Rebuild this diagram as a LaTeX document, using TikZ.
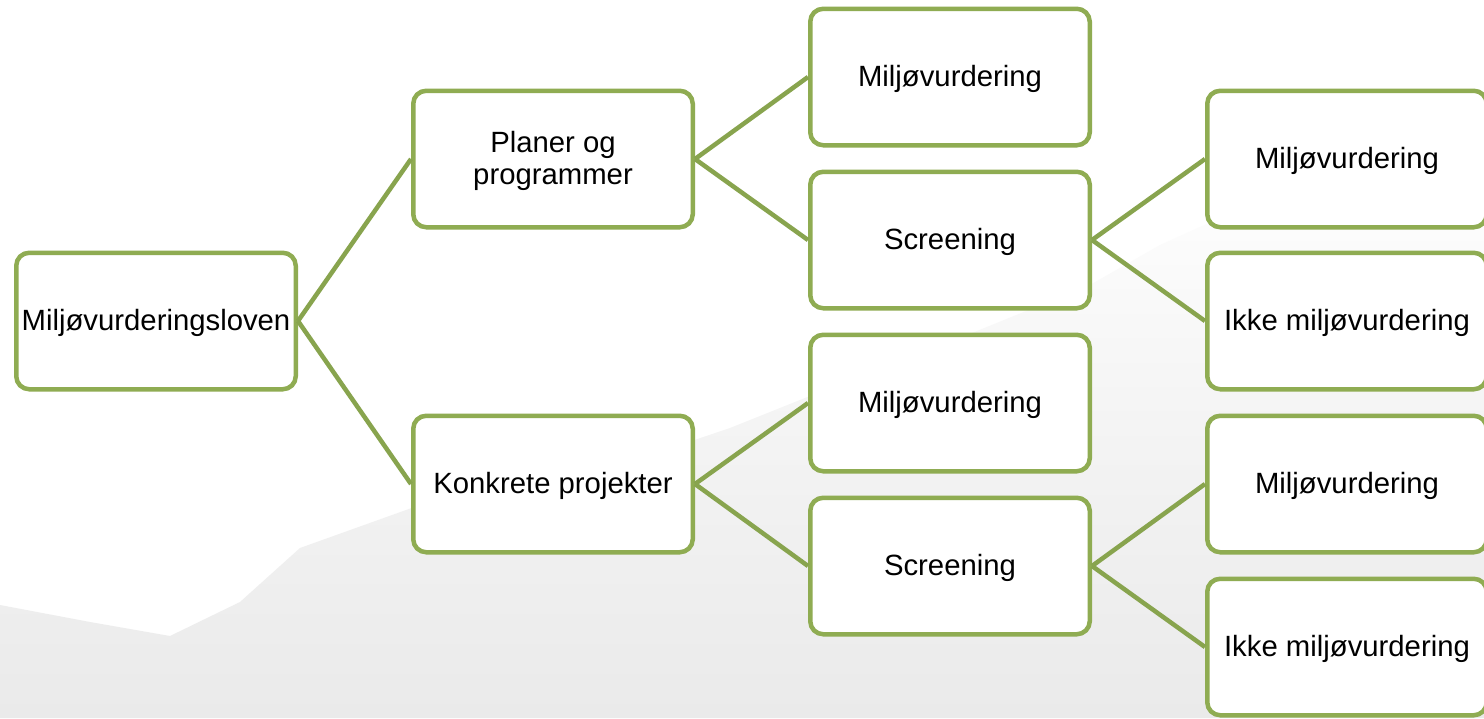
\documentclass[tikz,border=0pt]{standalone}
\usepackage{fontspec}
\setmainfont{Liberation Sans}
\usetikzlibrary{positioning,fadings}
\definecolor{boxgreen}{RGB}{143,172,82}
\definecolor{linkgreen}{RGB}{136,164,78}
\definecolor{hill}{RGB}{234,234,234}
\tikzset{
  box/.style={draw=boxgreen, line width=4.5pt, fill=white, rounded corners=13pt,
    minimum width=279.5pt, minimum height=136.5pt, inner sep=2pt, text depth=3pt,
    align=center, font=\fontsize{29.3}{32}\selectfont},
  link/.style={draw=linkgreen, line width=4.5pt}
}
\begin{document}
\begin{tikzpicture}[x=1pt,y=-1pt]
\useasboundingbox (0,0) rectangle (1484,718);
\clip (0,0) rectangle (1484,718);
\fill[white] (0,0) rectangle (1484,718);
% faint hill silhouette in the background
\shade[top color=white, bottom color=hill, middle color=hill!55!white]
  (0,605) -- (90,622) -- (170,636) -- (240,602) -- (300,548) -- (420,505)
  -- (600,472) -- (730,428) -- (820,392) -- (950,342) -- (1090,285)
  -- (1160,245) -- (1260,200) -- (1380,172) -- (1484,155)
  -- (1484,718) -- (0,718) -- cycle;
% nodes
\node[box] (root) at (156,321) {Miljøvurderingsloven};
\node[box] (plan) at (553,159) {Planer og\\programmer};
\node[box] (proj) at (553,484) {Konkrete projekter};
\node[box] (pm)   at (950,77)  {Miljøvurdering};
\node[box] (ps)   at (950,240) {Screening};
\node[box] (km)   at (950,403) {Miljøvurdering};
\node[box] (ks)   at (950,566) {Screening};
\node[box] (psm)  at (1347,159) {Miljøvurdering};
\node[box] (psi)  at (1347,321) {Ikke miljøvurdering};
\node[box] (ksm)  at (1347,484) {Miljøvurdering};
\node[box] (ksi)  at (1347,647) {Ikke miljøvurdering};
% connectors
\draw[link] (root.east) -- (plan.west);
\draw[link] (root.east) -- (proj.west);
\draw[link] (plan.east) -- (pm.west);
\draw[link] (plan.east) -- (ps.west);
\draw[link] (proj.east) -- (km.west);
\draw[link] (proj.east) -- (ks.west);
\draw[link] (ps.east) -- (psm.west);
\draw[link] (ps.east) -- (psi.west);
\draw[link] (ks.east) -- (ksm.west);
\draw[link] (ks.east) -- (ksi.west);
\end{tikzpicture}
\end{document}
